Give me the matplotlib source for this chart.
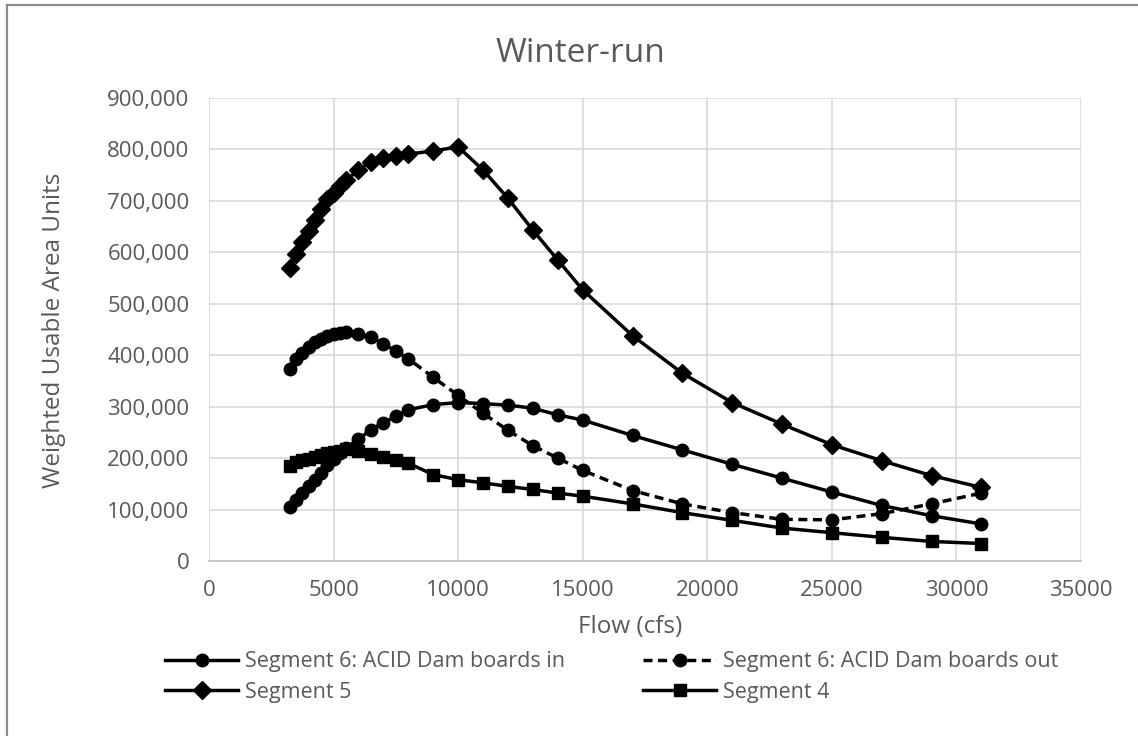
import matplotlib
matplotlib.use("Agg")
import matplotlib.pyplot as plt
from matplotlib.lines import Line2D
from matplotlib.ticker import FuncFormatter

plt.rcParams["font.family"] = ["Open Sans", "DejaVu Sans"]

# flow (cfs)
flows = [3250, 3500, 3750, 4000, 4250, 4500, 4750, 5000, 5250, 5500,
         6000, 6500, 7000, 7500, 8000, 9000, 10000, 11000, 12000, 13000,
         14000, 15000, 17000, 19000, 21000, 23000, 25000, 27000, 29000, 31000]

# weighted usable area (thousands)
seg6_in = [104, 118, 132, 145, 158, 172, 186, 198, 209, 220,
           237, 255, 269, 281, 294, 304, 308, 306, 303, 297,
           284, 274, 244, 216, 188, 161, 134, 108, 88, 72]
seg6_out = [373, 392, 405, 416, 425, 432, 437, 441, 443, 445,
            441, 435, 422, 408, 393, 357, 322, 287, 254, 224,
            200, 176, 137, 111, 94, 81, 80, 92, 111, 132]
seg5 = [570, 597, 620, 641, 663, 684, 703, 716, 728, 740,
        760, 776, 784, 787, 791, 797, 805, 760, 705, 643,
        585, 527, 438, 365, 308, 266, 226, 195, 166, 143]
seg4 = [184, 192, 196, 199, 203, 206, 209, 211, 214, 217,
        213, 208, 203, 196, 190, 168, 158, 152, 145, 139,
        132, 126, 111, 94, 79, 64, 55, 46, 38, 34]

labels = ["Segment 6: ACID Dam boards in", "Segment 6: ACID Dam boards out",
          "Segment 5", "Segment 4"]

W, H = 1138, 736
fig = plt.figure(figsize=(W / 100, H / 100), dpi=100)
ax = fig.add_axes([209 / W, 1 - 561 / H, (1081 - 209) / W, (561 - 98) / H])

txt = "#595959"
lw = 2.5

def k(vals):
    return [v * 1000 for v in vals]

l_in, = ax.plot(flows, k(seg6_in), color="black", lw=lw, marker="o", ms=9)
l_out, = ax.plot(flows, k(seg6_out), color="black", lw=lw, marker="o", ms=9,
                 linestyle=(0, (2.6, 1.6)))
l_5, = ax.plot(flows, k(seg5), color="black", lw=lw, marker="D", ms=9)
l_4, = ax.plot(flows, k(seg4), color="black", lw=lw, marker="s", ms=8)

ax.set_xlim(0, 35000)
ax.set_ylim(0, 900000)
ax.set_xticks(range(0, 35001, 5000))
ax.set_yticks(range(0, 900001, 100000))
ax.yaxis.set_major_formatter(FuncFormatter(lambda v, p: f"{int(v):,}"))
ax.grid(True, color="#d9d9d9", lw=1.2)
ax.set_axisbelow(True)
for s in ["top", "right", "left"]:
    ax.spines[s].set_visible(False)
ax.spines["bottom"].set_color("#c4c4c4")
ax.spines["bottom"].set_linewidth(1.3)
ax.tick_params(length=0, labelsize=16, colors=txt, pad=14)

fig.text(54 / W, 1 - 330 / H, "Weighted Usable Area Units", rotation=90,
         ha="center", va="center", fontsize=17.5, color=txt)
fig.text(630 / W, 1 - 627 / H, "Flow (cfs)", ha="center", va="center",
         fontsize=17.5, color=txt)
fig.text(580 / W, 1 - 53 / H, "Winter-run", ha="center", va="center",
         fontsize=24, color=txt)

leg_kw = dict(loc="center left", frameon=False, borderpad=0, borderaxespad=0,
              handlelength=3.4, handletextpad=0.33, labelspacing=0.45,
              fontsize=15.5, labelcolor=txt)
fig.legend([l_in, l_5], [labels[0], labels[2]],
           bbox_to_anchor=(165 / W, 1 - 677 / H), **leg_kw)
fig.legend([l_out, l_4], [labels[1], labels[3]],
           bbox_to_anchor=(643 / W, 1 - 677 / H), **leg_kw)

# chart-area border (left and top edges visible)
fig.add_artist(Line2D([7 / W, 7 / W], [0, 1 - 5 / H], color="#8c8c8c", lw=1.6))
fig.add_artist(Line2D([7 / W, 1], [1 - 5 / H, 1 - 5 / H], color="#8c8c8c", lw=1.6))

fig.savefig("out.png", dpi=100)
